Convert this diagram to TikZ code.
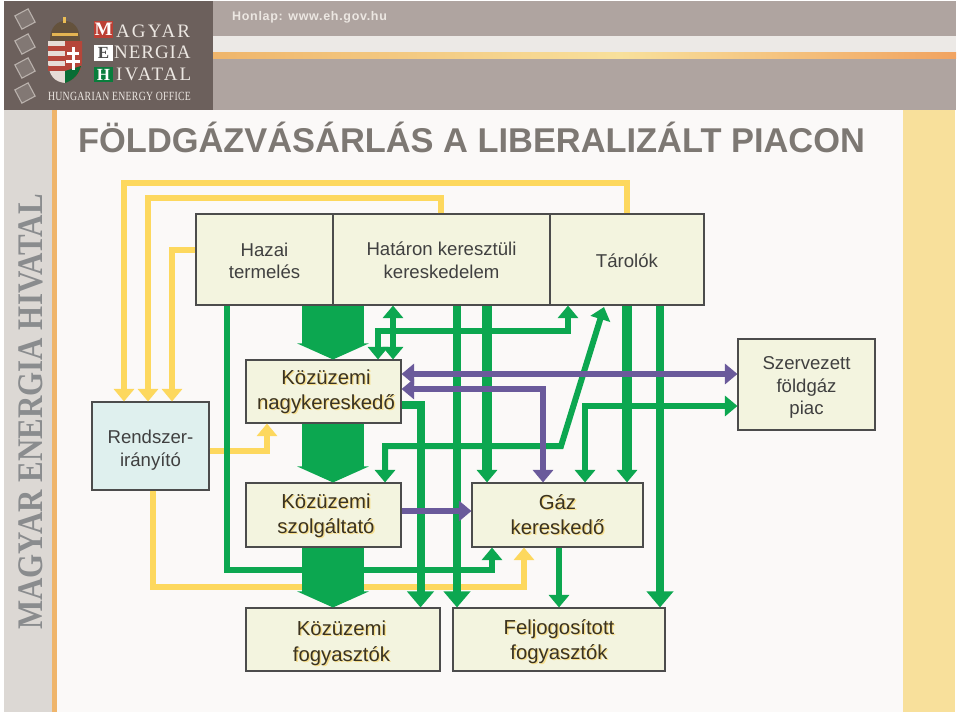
\documentclass[tikz,border=0pt]{standalone}
\usepackage{fontspec}
\setmainfont{Liberation Sans}
\newfontfamily\serifb{Liberation Serif}[LetterSpace=5]
\newfontfamily\serifc{Liberation Serif}[LetterSpace=11]
\newfontfamily\serifboldbox{Liberation Serif Bold}
\newfontfamily\serifbold{Liberation Serif Bold}
\newfontfamily\serifoff{Liberation Serif}[LetterSpace=3]
\newfontfamily\webfont{Liberation Sans Bold}[LetterSpace=5.5]
\usetikzlibrary{arrows.meta,calc}
\definecolor{gr}{HTML}{0CA750}
\definecolor{pu}{HTML}{6A5A9B}
\definecolor{ye}{HTML}{FDD85E}
\definecolor{boxfill}{HTML}{F3F4DF}
\definecolor{bluefill}{HTML}{DFF0EE}
\definecolor{logob}{HTML}{6C605C}
\definecolor{band}{HTML}{AFA4A0}
\definecolor{strip}{HTML}{ECE9E6}
\definecolor{lcol}{HTML}{DCD8D4}
\definecolor{orangeb}{HTML}{EFB56B}
\definecolor{page}{HTML}{FBF9F8}
\definecolor{rcol}{HTML}{F8E09B}
\definecolor{shad}{HTML}{F7DE8A}
\definecolor{ink}{HTML}{3B3320}
\definecolor{logot}{HTML}{ECE7E2}
\definecolor{titlec}{HTML}{7D7873}
\definecolor{sidec}{HTML}{8A8C8E}
\definecolor{shr}{HTML}{B5463A}
\definecolor{shw}{HTML}{E6DCD6}
\definecolor{crown}{HTML}{64523C}
\newcommand{\shd}[1]{\leavevmode\rlap{\hspace{1.3pt}\raisebox{-1.3pt}{\textcolor{shad}{#1}}}#1}
\newcommand{\up}[1]{\rule{0pt}{#1pt}}
\tikzset{
 x=1pt,y=-1pt,
 plainbox/.style={draw=black!70,line width=1.1pt,fill=boxfill,inner sep=0pt,align=center,text=black!75,font=\fontsize{18.6}{22.5}\selectfont},
 strongbox/.style={plainbox,text=ink,font=\fontsize{20.3}{25}\selectfont},
 hd/.style={-{Triangle[width=20pt,length=12.5pt]}},
 bhd/.style={{Triangle[width=20pt,length=12.5pt]}-{Triangle[width=20pt,length=12.5pt]}},
 bighd/.style={-{Triangle[width=26pt,length=16pt]}},
 yl/.style={ye,line width=6.5pt,line join=miter},
 gn/.style={gr,line width=6pt,line join=miter},
 gnt/.style={gr,line width=8pt,line join=miter},
 gnw/.style={gr,line width=9.3pt,line join=miter},
 pl/.style={pu,line width=6pt,line join=miter},
 fat/.style={gr,line width=62pt,-{Triangle[width=71pt,length=16pt]}},
 diam/.style={draw=logot!60!logob,fill=logob!85!white,line width=1.1pt,rotate=28,minimum size=15pt},
 lgt/.style={text=logot,anchor=west,inner sep=0pt,font=\fontsize{19}{20}\serifb},
 lgc/.style={lgt,font=\fontsize{19}{20}\serifc},
}
\begin{document}
\begin{tikzpicture}
\useasboundingbox (0,0) rectangle (960,716);
\fill[white] (0,0) rectangle (960,716);
% page structure
\fill[page] (57,110) rectangle (903,712);
\fill[lcol] (4,110) rectangle (52,712);
\fill[orangeb] (52,110) rectangle (57,712);
\fill[rcol] (903,110) rectangle (955,712);
\fill[band] (213,1) rectangle (956,110);
\fill[strip] (213,36) rectangle (956,52);
\shade[left color=orangeb,right color=rcol] (213,52) rectangle (620,58);
\shade[left color=rcol,right color=orangeb!90!red] (620,52) rectangle (956,58);
\fill[logob] (4,1) rectangle (213,110);
% logo
\foreach \yy/\nm in {19/a,44/b,68/c,93/d}{\node[diam] (dia\nm) at (25,\yy) {};}
\fill[crown] (50,41) .. controls (50,26) and (58,21) .. (65,21) .. controls (72,21) and (80,26) .. (80,41) -- cycle;
\fill[ye!60!brown] (52,33) rectangle (78,36);
\fill[ye!70!brown] (63,17) rectangle (66,23);
\fill[shw] (48,41) -- (65,41) -- (65,83) .. controls (55,82) and (48,76) .. (48,60) -- cycle;
\foreach \yy in {46,56,66}{\fill[shr] (48,\yy) rectangle (65,\yy+5);}
\fill[shr] (65,41) -- (82,41) -- (82,60) .. controls (82,70) and (78,78) .. (65,83) -- cycle;
\fill[gr!65!black] (65,71) -- (81,66) .. controls (79,74) and (74,80) .. (65,83) -- cycle;
\fill[white] (71.5,47) rectangle (74.5,70);
\fill[white] (67,52) rectangle (79,55);
\fill[white] (66,60) rectangle (80,63);
\fill[shr!90!red] (94,21) rectangle (113,38);
\fill[white] (94,45) rectangle (113,61);
\fill[gr!75!black] (94,67) rectangle (113,82);
\node[text=white,inner sep=0pt,font=\fontsize{19}{20}\serifboldbox] (lm) at (103.5,29.5) {M};
\node[text=black!70,inner sep=0pt,font=\fontsize{17}{18}\serifboldbox] (le) at (103.5,53) {E};
\node[text=white,inner sep=0pt,font=\fontsize{17}{18}\serifboldbox] (lh) at (103.5,74.5) {H};
\node[lgc] (l1) at (116,31) {AGYAR};
\node[lgt] (l2) at (114,52) {NERGIA};
\node[lgc] (l3) at (116,74.5) {IVATAL};
\node[text=logot,inner sep=0pt,font=\fontsize{12.5}{14}\serifoff,xscale=.78] (l4) at (119.5,96.5) {HUNGARIAN ENERGY OFFICE};
\node[text=logot,anchor=west,inner sep=0pt,font=\fontsize{12.5}{14}\webfont] (web) at (232,17.5) {Honlap: www.eh.gov.hu};
\node[text=sidec,rotate=90,xscale=.86,inner sep=0pt,font=\fontsize{36}{40}\serifbold] (side) at (31,412) {MAGYAR ENERGIA HIVATAL};
% title
\node[text=titlec,anchor=west,inner sep=0pt,font=\fontsize{34.4}{38}\bfseries] (title) at (78,137) {FÖLDGÁZVÁSÁRLÁS A LIBERALIZÁLT PIACON};
% boxes
\node[plainbox,minimum width=137pt,minimum height=91pt] (hazai) at (264.5,259.5) {\up{16.6}Hazai\\termelés};
\node[plainbox,minimum width=217pt,minimum height=91pt] (hatar) at (441.5,259.5) {\up{15.6}Határon keresztüli\\kereskedelem};
\node[plainbox,minimum width=154pt,minimum height=91pt] (tarolo) at (627,259.5) {\up{15.6}Tárolók};
\node[plainbox,fill=bluefill,minimum width=117pt,minimum height=88pt] (rend) at (150.5,446) {\up{21.6}Rendszer-\\irányító};
\node[plainbox,minimum width=137pt,minimum height=91pt] (szerv) at (806.5,384.5) {\up{19.6}Szervezett\\földgáz\\piac};
\node[strongbox,minimum width=155pt,minimum height=63pt] (nagy) at (323.5,391.5) {\hspace*{5pt}\up{16.8}\shd{Közüzemi}\\\hspace*{5pt}\shd{nagykereskedő}};
\node[strongbox,minimum width=155pt,minimum height=64pt] (szolg) at (323.5,515) {\hspace*{5pt}\up{17.8}\shd{Közüzemi}\\\hspace*{5pt}\shd{szolgáltató}};
\node[strongbox,minimum width=171pt,minimum height=64pt] (gaz) at (557.5,515) {\shd{Gáz}\\\shd{kereskedő}};
\node[strongbox,minimum width=194pt,minimum height=63pt,font=\fontsize{20.3}{26}\selectfont] (kfogy) at (343,639.5) {\up{23.8}\shd{Közüzemi}\hspace*{3pt}\\\shd{fogyasztók}\hspace*{3pt}};
\node[strongbox,minimum width=212pt,minimum height=63pt] (ffogy) at (559,639.5) {\up{20.8}\shd{Feljogosított}\\\shd{fogyasztók}};
% yellow
\draw[yl,hd] (627,0 |- tarolo.north) -- (627,183) -- (124,183) -- (124,0 |- rend.north);
\draw[yl,hd] (441,0 |- hatar.north) -- (441,198) -- (148,198) -- (148,0 |- rend.north);
\draw[yl,hd] (0,250 -| hazai.west) -- (172,250) -- (172,0 |- rend.north);
\draw[yl,hd] (0,451 -| rend.east) -- (267,451) -- (267,0 |- nagy.south);
\draw[yl,hd] (153,0 |- rend.south) -- (153,587) -- (524,587) -- (524,0 |- gaz.south);
% green
\draw[gn,hd] (227,0 |- hazai.south) -- (227,570) -- (492,570) -- (492,0 |- gaz.south);
\draw[gn,bhd] (393,0 |- hatar.south) -- (393,0 |- nagy.north);
\draw[gn,bhd] (378,0 |- nagy.north) -- (378,331) -- (568,331) -- (568,0 |- tarolo.south);
\draw[gn,bhd] (385,0 |- szolg.north) -- (385,446) -- (561,446) -- (604,307);
\draw[gn,bhd] (585,0 |- gaz.north) -- (585,406) -- (0,406 -| szerv.west);
\draw[gnw,hd] (487,0 |- hatar.south) -- (487,0 |- gaz.north);
\draw[gnw,hd] (627,0 |- tarolo.south) -- (627,0 |- gaz.north);
\draw[gnt,bighd] (457,0 |- hatar.south) -- (457,0 |- kfogy.north);
\draw[gnt,bighd] (0,405 -| nagy.east) -- (420.5,405) -- (420.5,0 |- kfogy.north);
\draw[gnt,bighd] (660,0 |- tarolo.south) -- (660,0 |- ffogy.north);
\draw[gn,hd] (559,0 |- gaz.south) -- (559,0 |- ffogy.north);
% fat arrows
\draw[fat] (333,0 |- hazai.south) -- (333,0 |- nagy.north);
\draw[fat] (333,0 |- nagy.south) -- (333,0 |- szolg.north);
\draw[fat] (333,0 |- szolg.south) -- (333,0 |- kfogy.north);
% purple
\draw[pl,bhd] (0,374 -| nagy.east) -- (0,374 -| szerv.west);
\draw[pl,bhd] (0,389 -| nagy.east) -- (543,389) -- (543,0 |- gaz.north);
\draw[pl,hd] (0,511 -| szolg.east) -- (0,511 -| gaz.west);
\end{tikzpicture}
\end{document}
